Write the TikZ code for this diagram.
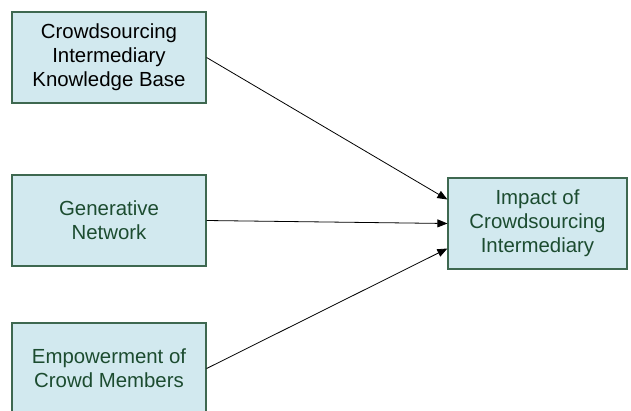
\documentclass[tikz,border=0pt]{standalone}
\usepackage{fontspec}
\setmainfont{Liberation Sans}
\usetikzlibrary{arrows.meta}

\definecolor{boxfill}{RGB}{210,233,239}
\definecolor{boxline}{RGB}{62,104,80}
\definecolor{boxtext}{RGB}{28,76,48}

\tikzset{
    factor/.style={draw=boxline, line width=1.2pt, fill=boxfill, text=boxtext,
        minimum width=194pt, minimum height=91pt, align=center,
        font=\fontsize{20.4}{24}\selectfont, inner sep=0pt},
    link/.style={-{Triangle[length=10pt,width=8pt]}, line width=0.8pt}
}

\begin{document}
\begin{tikzpicture}[x=1pt,y=-1pt]
    \useasboundingbox (0,0) rectangle (631,410);

    % Antecedents
    \node[factor, text=black] (base) at (109,57.5) {Crowdsourcing\\Intermediary\\Knowledge Base};
    \node[factor] (net) at (109,220.5) {Generative\\Network};
    \node[factor] (crowd) at (109,368.5) {Empowerment of\\Crowd Members};

    % Outcome
    \node[factor, minimum width=179pt] (impact) at (537.5,223.5) {Impact of\\Crowdsourcing\\Intermediary};

    % Effects
    \draw[link] (base.east) -- ([yshift=24pt]impact.west);
    \draw[link] (net.east) -- (impact.west);
    \draw[link] (crowd.east) -- ([yshift=-25pt]impact.west);
\end{tikzpicture}
\end{document}
